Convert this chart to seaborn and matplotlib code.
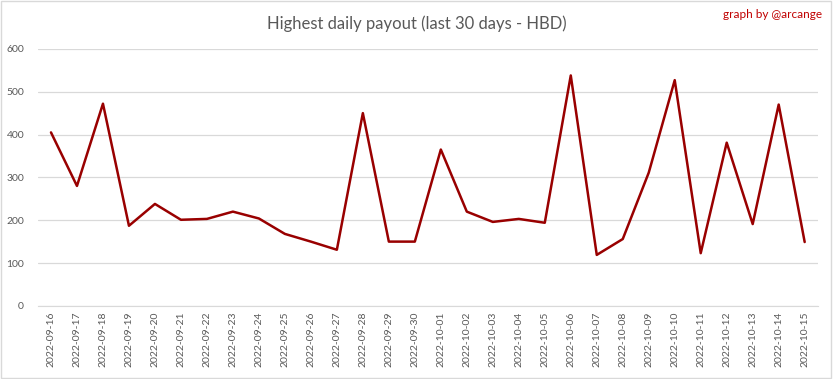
import matplotlib
matplotlib.use("Agg")
import matplotlib.pyplot as plt
import seaborn as sns
import pandas as pd

dates = ["2022-09-16", "2022-09-17", "2022-09-18", "2022-09-19", "2022-09-20",
         "2022-09-21", "2022-09-22", "2022-09-23", "2022-09-24", "2022-09-25",
         "2022-09-26", "2022-09-27", "2022-09-28", "2022-09-29", "2022-09-30",
         "2022-10-01", "2022-10-02", "2022-10-03", "2022-10-04", "2022-10-05",
         "2022-10-06", "2022-10-07", "2022-10-08", "2022-10-09", "2022-10-10",
         "2022-10-11", "2022-10-12", "2022-10-13", "2022-10-14", "2022-10-15"]
payout = [405, 280, 472, 187, 238, 201, 203, 220, 204, 168,
          150, 131, 450, 150, 150, 365, 220, 196, 203, 194,
          538, 119, 156, 311, 527, 123, 381, 191, 470, 149]

df = pd.DataFrame({"date": dates, "payout": payout})

sns.set_style("white")
plt.rcParams["font.family"] = ["Lato", "DejaVu Sans"]

fig = plt.figure(figsize=(8.33, 3.79), dpi=100)
ax = fig.add_axes([0.0456, 0.193, 0.936, 0.678])

sns.lineplot(data=df, x="date", y="payout", color="#990000", linewidth=1.8, ax=ax, sort=False)

ax.set_xlim(-0.5, len(dates) - 0.5)
ax.set_ylim(0, 600)
ax.set_yticks(range(0, 601, 100))
ax.grid(axis="y", color="#d9d9d9", linewidth=0.9)
ax.set_axisbelow(True)
for s in ["top", "right", "left"]:
    ax.spines[s].set_visible(False)
ax.spines["bottom"].set_color("#d9d9d9")
ax.tick_params(axis="x", labelrotation=90, labelsize=7.5, colors="#595959", length=0, pad=4)
ax.tick_params(axis="y", labelsize=7.5, colors="#595959", length=0, pad=10)
ax.set_xlabel("")
ax.set_ylabel("")

fig.text(0.5, 0.937, "Highest daily payout (last 30 days - HBD)", ha="center", va="center",
         fontsize=12, color="#595959")
fig.text(0.987, 0.961, "graph by @arcange", ha="right", va="center", fontsize=8.5, color="#c00000")

fig.patches.append(plt.Rectangle((0.001, 0.002), 0.997, 0.995, transform=fig.transFigure,
                                 fill=False, edgecolor="#d9d9d9", linewidth=1))

fig.savefig("out.png", dpi=100)
